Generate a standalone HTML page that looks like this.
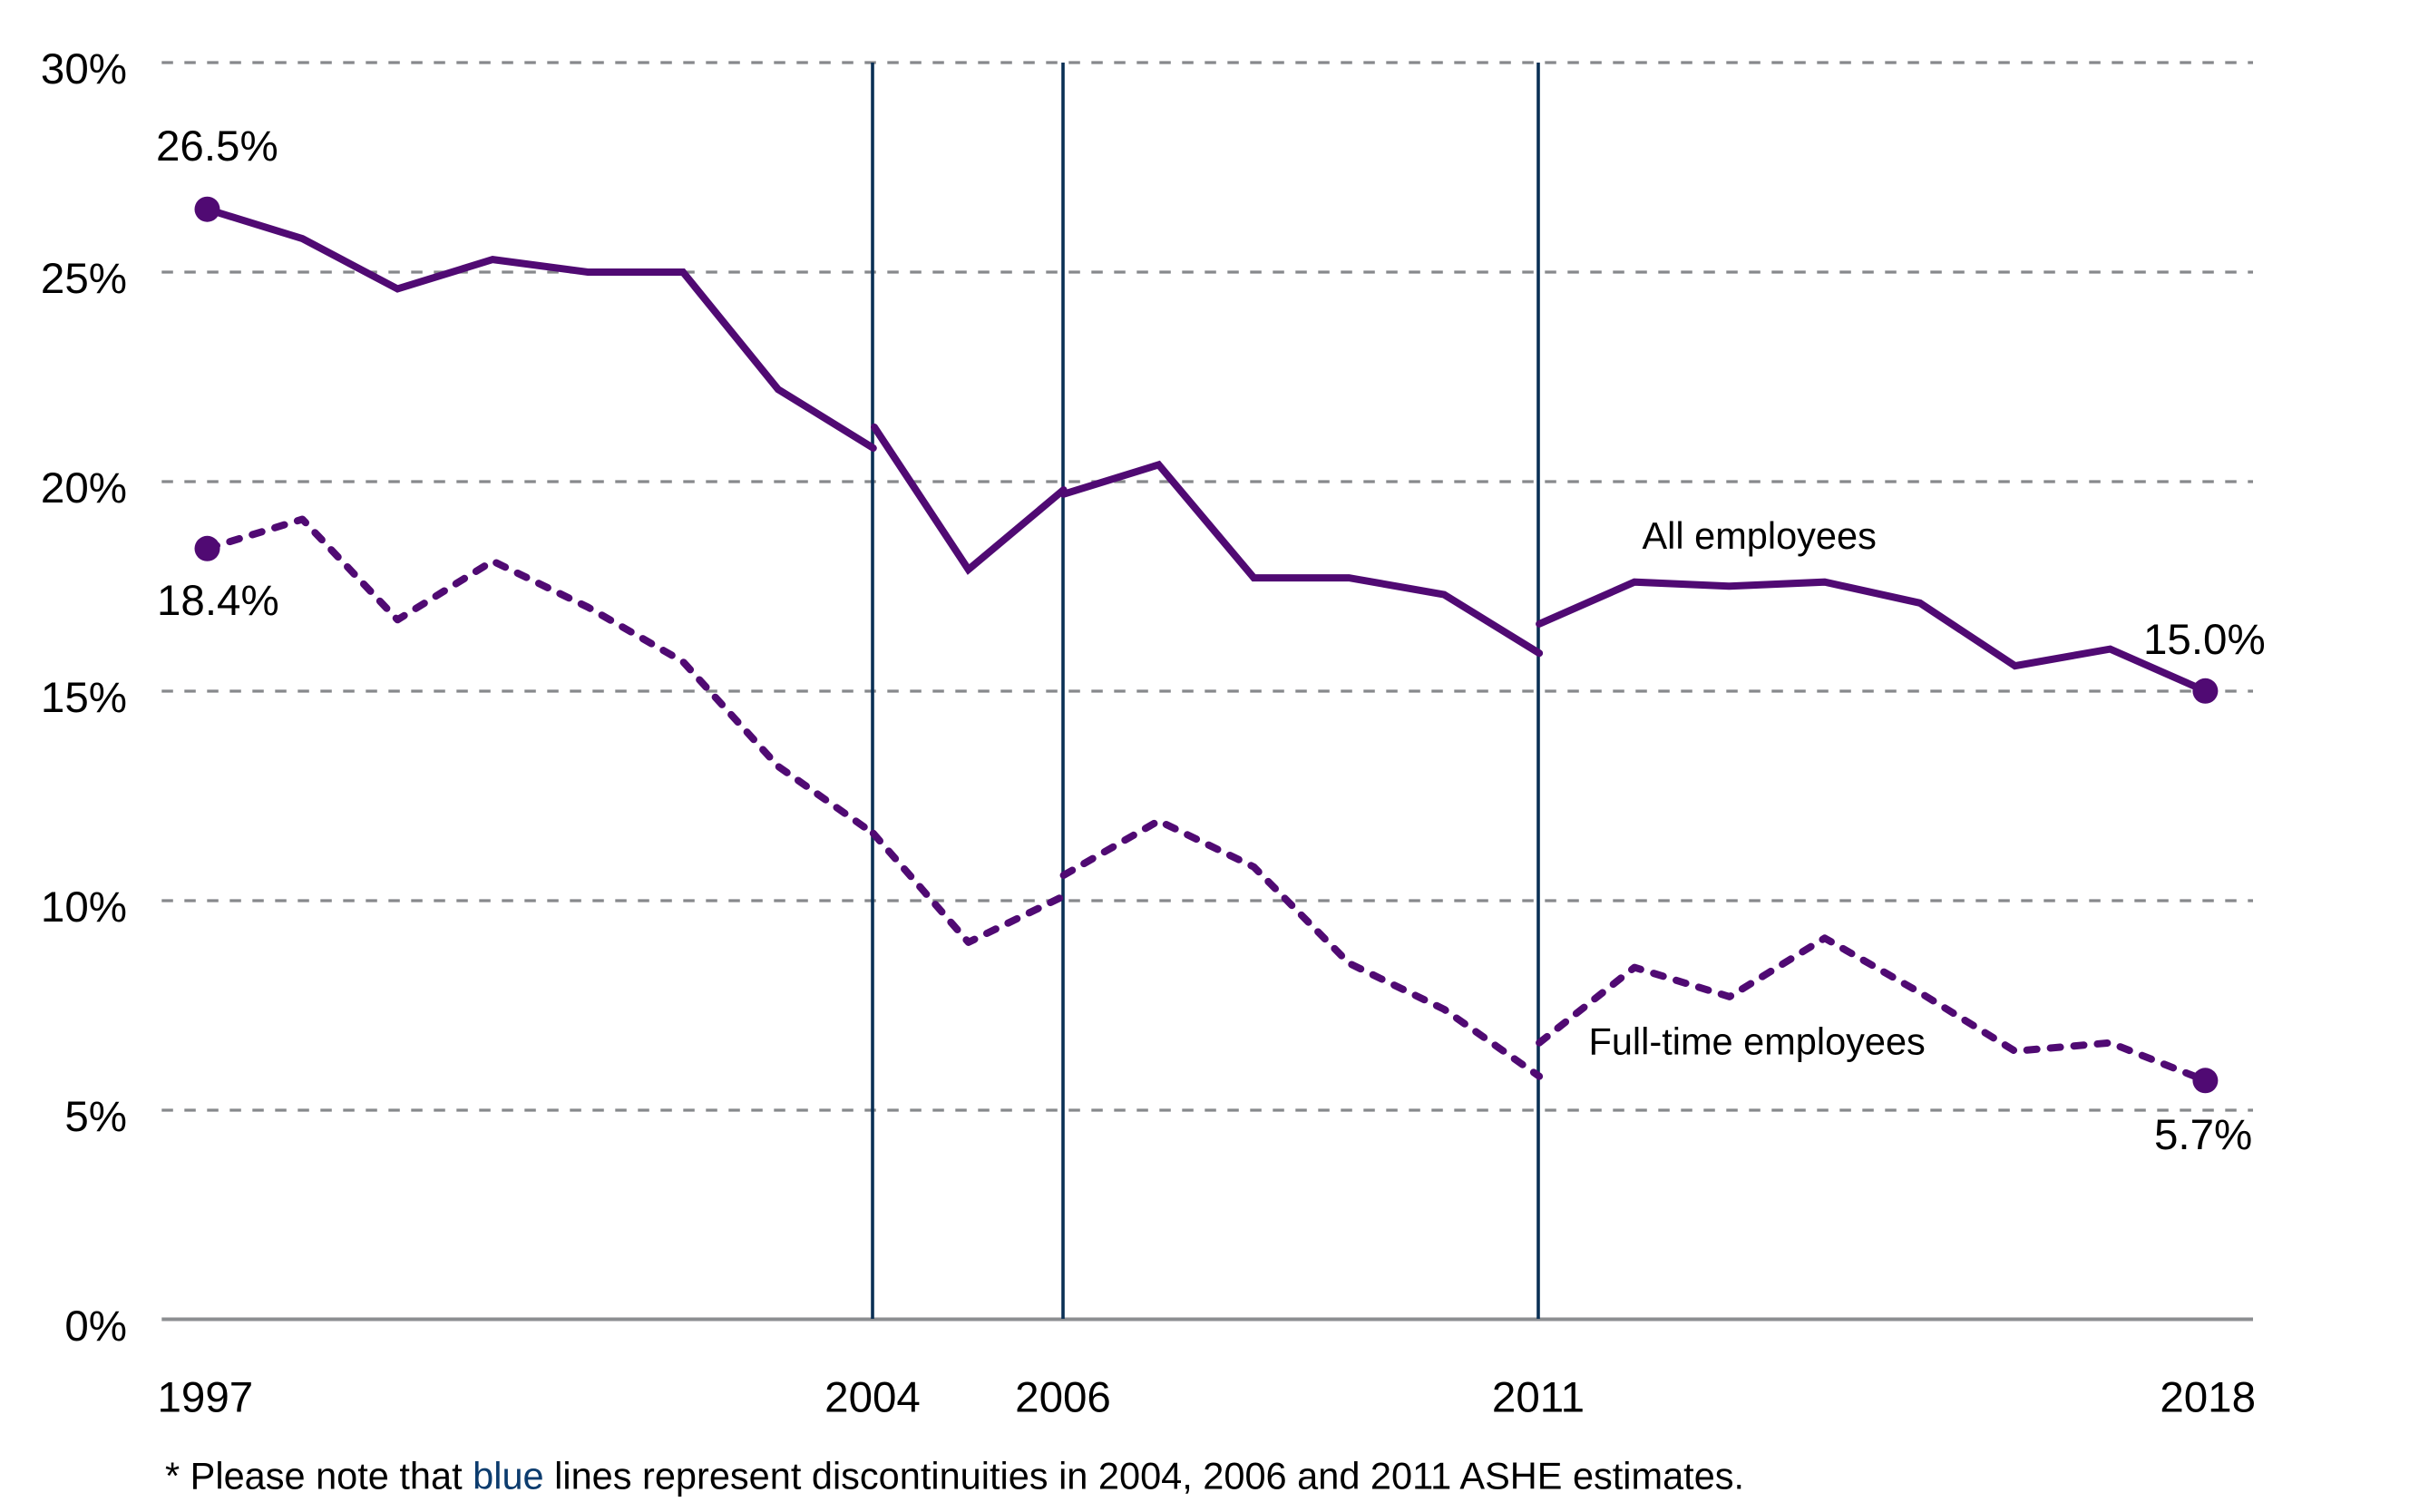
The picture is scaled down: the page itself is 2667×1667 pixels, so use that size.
<!DOCTYPE html>
<html>
<head>
<meta charset="utf-8">
<style>
  html, body { margin:0; padding:0; background:#ffffff; }
  svg { display:block; }
  text { font-family: "Liberation Sans", Arial, sans-serif; fill:#000; }
</style>
</head>
<body>
<svg width="2667" height="1667" viewBox="0 0 2667 1667" xmlns="http://www.w3.org/2000/svg">
  <rect x="0" y="0" width="2667" height="1667" fill="#ffffff"/>

  <!-- gridlines -->
  <g stroke="#87898c" stroke-width="3.3" stroke-dasharray="12.5 12.5" fill="none">
    <line x1="178.3" y1="69" x2="2484" y2="69"/>
    <line x1="178.3" y1="300" x2="2484" y2="300"/>
    <line x1="178.3" y1="531" x2="2484" y2="531"/>
    <line x1="178.3" y1="762" x2="2484" y2="762"/>
    <line x1="178.3" y1="993" x2="2484" y2="993"/>
    <line x1="178.3" y1="1224" x2="2484" y2="1224"/>
  </g>

  <!-- axis -->
  <line x1="178.3" y1="1454.5" x2="2484" y2="1454.5" stroke="#8c8e91" stroke-width="4"/>

  <!-- discontinuity lines -->
  <g stroke="#0a3055" stroke-width="3.6">
    <line x1="962" y1="69" x2="962" y2="1454"/>
    <line x1="1172" y1="69" x2="1172" y2="1454"/>
    <line x1="1696" y1="69" x2="1696" y2="1454"/>
  </g>

  <!-- All employees (solid) -->
  <g stroke="#500a73" stroke-width="8" fill="none" stroke-linecap="round" stroke-linejoin="miter">
    <polyline points="228.5,230.7 333.4,263.1 438.3,318.5 543.2,286.1 648.1,300.0 753.0,300.0 857.9,429.3 962.8,494.0"/>
    <polyline points="964,470.9 1067.7,627.9 1172.6,540.1"/>
    <polyline points="1172.6,544.8 1277.5,512.4 1382.4,637.1 1487.3,637.1 1592.2,655.6 1697.1,720.2"/>
    <polyline points="1697.1,687.9 1802.0,641.7 1906.9,646.3 2011.8,641.7 2116.7,664.8 2221.6,734.1 2326.5,715.6 2431.4,761.8"/>
  </g>

  <!-- Full-time employees (dashed) -->
  <g stroke="#500a73" stroke-width="8" fill="none" stroke-linecap="round" stroke-linejoin="round" stroke-dasharray="11 15">
    <polyline points="228.5,604.8 333.4,572.5 438.3,683.3 543.2,618.6 648.1,669.4 753.0,729.5 857.9,844.9 962.8,918.8"/>
    <polyline points="962.8,918.8 1067.7,1038.9 1172.6,988.1"/>
    <polyline points="1172.6,965.0 1277.5,905.0 1382.4,955.8 1487.3,1062.0 1592.2,1112.8 1697.1,1186.7"/>
    <polyline points="1697.1,1149.7 1802.0,1066.6 1906.9,1098.9 2011.8,1034.3 2116.7,1094.3 2221.6,1158.9 2326.5,1149.7 2431.4,1191.3"/>
  </g>

  <!-- markers -->
  <g fill="#500a73">
    <circle cx="228.5" cy="230.7" r="14"/>
    <circle cx="228.5" cy="604.8" r="14"/>
    <circle cx="2431.4" cy="761.8" r="14"/>
    <circle cx="2431.4" cy="1191.3" r="14"/>
  </g>

  <!-- y-axis tick labels -->
  <g font-size="47.5" text-anchor="end">
    <text x="140" y="92">30%</text>
    <text x="140" y="323">25%</text>
    <text x="140" y="554">20%</text>
    <text x="140" y="785">15%</text>
    <text x="140" y="1016">10%</text>
    <text x="140" y="1247">5%</text>
    <text x="140" y="1478">0%</text>
  </g>

  <!-- x-axis labels -->
  <g font-size="47.5">
    <text x="173.5" y="1556.5">1997</text>
    <text x="962" y="1556.5" text-anchor="middle">2004</text>
    <text x="1172" y="1556.5" text-anchor="middle">2006</text>
    <text x="1696" y="1556.5" text-anchor="middle">2011</text>
    <text x="2487" y="1556.5" text-anchor="end">2018</text>
  </g>

  <!-- data labels -->
  <g font-size="47.5">
    <text x="172" y="177">26.5%</text>
    <text x="173" y="678">18.4%</text>
    <text x="2363" y="721">15.0%</text>
    <text x="2375" y="1267">5.7%</text>
  </g>

  <!-- series labels -->
  <g font-size="41.5">
    <text x="1810.5" y="605">All employees</text>
    <text x="1751.5" y="1162.3">Full-time employees</text>
  </g>

  <!-- footnote -->
  <text x="182" y="1641.5" font-size="41.5">* Please note that <tspan fill="#0c3c6e">blue</tspan> lines represent discontinuities in 2004, 2006 and 2011 ASHE estimates.</text>
</svg>
</body>
</html>
